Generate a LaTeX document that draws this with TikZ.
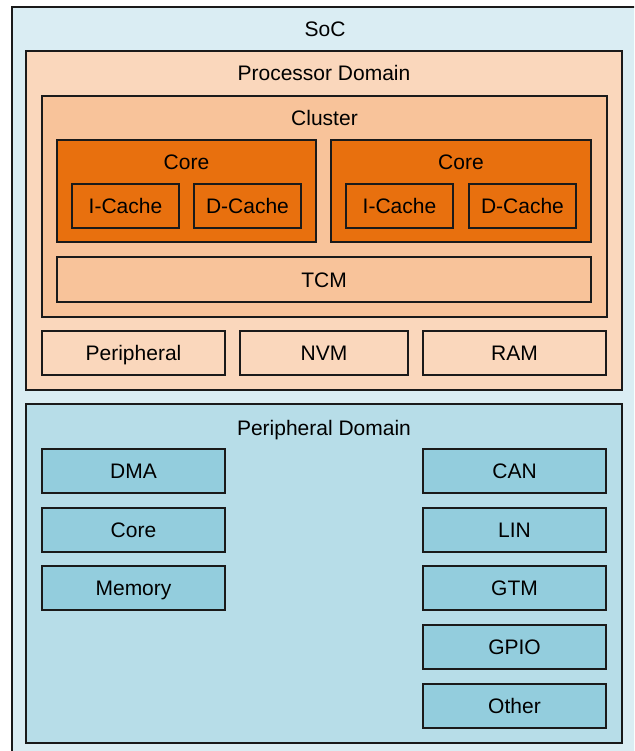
\documentclass[tikz,border=0pt]{standalone}
\usepackage{fontspec}
\setmainfont{Liberation Sans}
\definecolor{socfill}{HTML}{DAEDF3}
\definecolor{pdfill}{HTML}{FAD7BC}
\definecolor{clfill}{HTML}{F8C39A}
\definecolor{corefill}{HTML}{E8700E}
\definecolor{perdfill}{HTML}{B7DDE8}
\definecolor{perbox}{HTML}{93CDDD}
\definecolor{edge}{HTML}{1A1A1A}
\tikzset{
  box/.style={draw=edge, line width=1.4pt, inner sep=0pt, outer sep=0pt, rectangle, anchor=north west, text height=15pt, text depth=0pt, font=\fontsize{21}{25}\selectfont},
  ttl/.style={inner sep=0pt, text height=15pt, text depth=0pt, font=\fontsize{21}{25}\selectfont},
}
\begin{document}
\begin{tikzpicture}[x=1pt,y=-1pt]
\useasboundingbox (0,0) rectangle (634,751);
\clip (0,0) rectangle (634,751);
\fill[white] (0,0) rectangle (634,751);
% SoC
\node[box, fill=socfill, minimum width=640pt, minimum height=760pt] (soc) at (12,7) {};
\node[ttl] (soctitle) at (325,29) {SoC};
% Processor domain
\node[box, fill=pdfill, minimum width=596pt, minimum height=339pt] (pd) at (26,51) {};
\node[ttl] (pdtitle) at ([yshift=-22pt]pd.north) {Processor Domain};
% Cluster
\node[box, fill=clfill, minimum width=565pt, minimum height=221pt] (cl) at (42,96) {};
\node[ttl] (cltitle) at ([yshift=-22pt]cl.north) {Cluster};
% Cores
\node[box, fill=corefill, minimum width=259pt, minimum height=102pt] (core1) at (57,140) {};
\node[ttl] (core1t) at ([yshift=-22pt]core1.north) {Core};
\node[box, fill=corefill, minimum width=260pt, minimum height=102pt] (core2) at (331,140) {};
\node[ttl] (core2t) at ([yshift=-22pt]core2.north) {Core};
\node[box, fill=corefill, minimum width=107pt, minimum height=44pt] (ic1) at (72,184) {I-Cache};
\node[box, fill=corefill, minimum width=107pt, minimum height=44pt] (dc1) at (194,184) {D-Cache};
\node[box, fill=corefill, minimum width=107pt, minimum height=44pt] (ic2) at (346,184) {I-Cache};
\node[box, fill=corefill, minimum width=107pt, minimum height=44pt] (dc2) at (469,184) {D-Cache};
% TCM
\node[box, fill=clfill, minimum width=534pt, minimum height=45pt] (tcm) at (57,257) {TCM};
% Peripheral, NVM, RAM
\node[box, fill=pdfill, minimum width=183pt, minimum height=44pt] (per) at (42,331) {Peripheral};
\node[box, fill=pdfill, minimum width=168pt, minimum height=44pt] (nvm) at (240,331) {NVM};
\node[box, fill=pdfill, minimum width=183pt, minimum height=44pt] (ram) at (423,331) {RAM};
% Peripheral domain
\node[box, fill=perdfill, minimum width=596pt, minimum height=339pt] (perd) at (26,404) {};
\node[ttl] (perdtitle) at ([yshift=-24pt]perd.north) {Peripheral Domain};
\node[box, fill=perbox, minimum width=183pt, minimum height=44pt] (dma) at (42,449) {DMA};
\node[box, fill=perbox, minimum width=183pt, minimum height=44pt] (pcore) at (42,508) {Core};
\node[box, fill=perbox, minimum width=183pt, minimum height=44pt] (mem) at (42,566) {Memory};
\node[box, fill=perbox, minimum width=183pt, minimum height=44pt] (can) at (423,449) {CAN};
\node[box, fill=perbox, minimum width=183pt, minimum height=44pt] (lin) at (423,508) {LIN};
\node[box, fill=perbox, minimum width=183pt, minimum height=44pt] (gtm) at (423,566) {GTM};
\node[box, fill=perbox, minimum width=183pt, minimum height=44pt] (gpio) at (423,625) {GPIO};
\node[box, fill=perbox, minimum width=183pt, minimum height=44pt] (other) at (423,684) {Other};
\end{tikzpicture}
\end{document}
